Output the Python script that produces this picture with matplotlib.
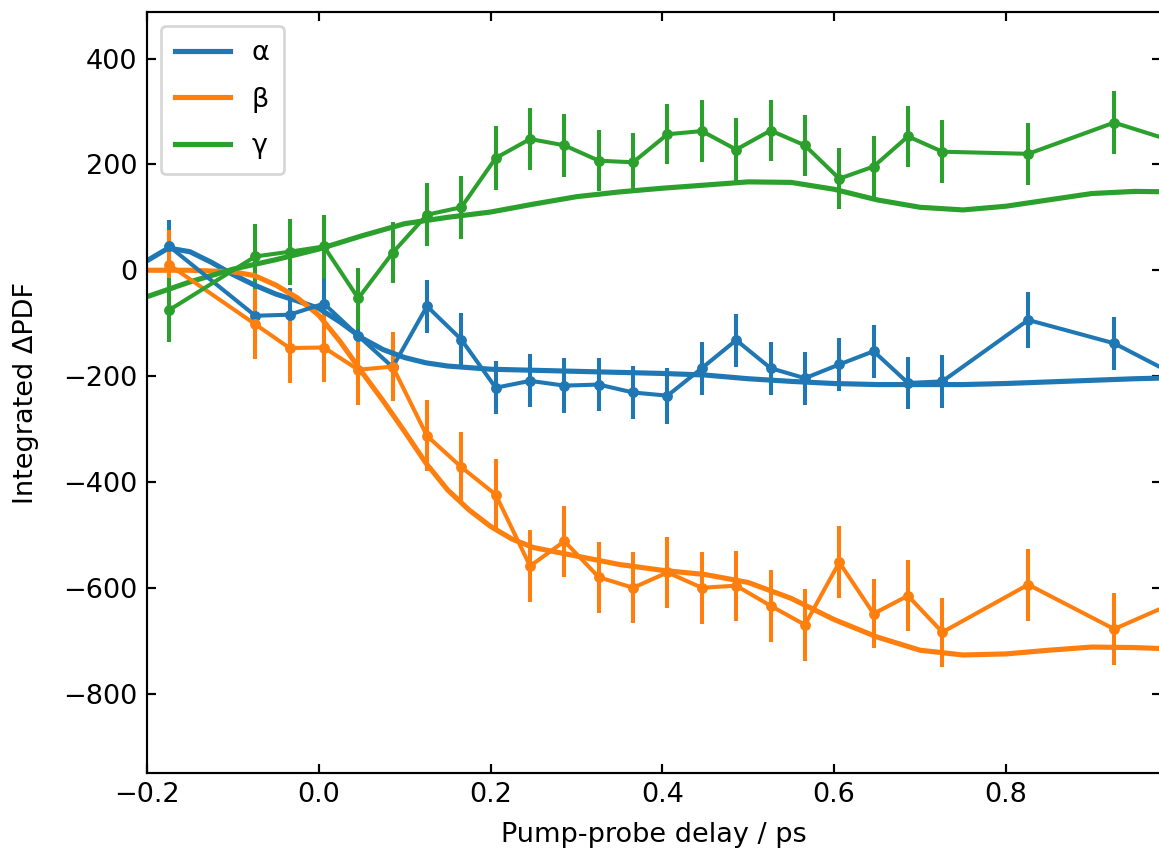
import numpy as np
import matplotlib
matplotlib.use("Agg")
import matplotlib.pyplot as plt

# pump-probe delays (ps)
delay = [-0.174, -0.074, -0.034, 0.006, 0.046, 0.086, 0.126, 0.166, 0.206, 0.246,
         0.286, 0.326, 0.366, 0.406, 0.446, 0.486, 0.526, 0.566, 0.606, 0.646,
         0.686, 0.726, 0.826, 0.926, 1.026]

alpha = [45, -86, -84, -63, -124, -183, -68, -131, -222, -209,
         -218, -216, -231, -237, -185, -132, -185, -204, -178, -153,
         -213, -210, -94, -138, -222]
alpha_err = [50, 50, 50, 50, 50, 50, 50, 50, 50, 50,
             52, 50, 50, 53, 50, 50, 50, 50, 50, 50,
             50, 50, 52, 50, 50]

beta = [10, -102, -147, -146, -188, -182, -313, -372, -424, -559,
        -512, -580, -600, -571, -600, -596, -634, -670, -552, -649,
        -615, -684, -594, -678, -607]
beta_err = [66, 66, 66, 66, 66, 66, 67, 67, 67, 68,
            67, 67, 67, 67, 68, 66, 68, 68, 68, 65,
            67, 65, 68, 68, 67]

gamma = [-75, 26, 35, 45, -53, 33, 105, 119, 212, 248,
         236, 207, 204, 257, 263, 228, 264, 236, 173, 196,
         253, 224, 220, 279, 228]
gamma_err = [60, 62, 62, 60, 58, 58, 60, 60, 60, 58,
             59, 58, 56, 57, 59, 60, 58, 58, 58, 58,
             58, 60, 58, 60, 58]

# model curves
t_alpha = [-0.2, -0.175, -0.15, -0.125, -0.1, -0.075, -0.05, -0.025, 0.0, 0.025,
           0.05, 0.075, 0.1, 0.125, 0.15, 0.2, 0.25, 0.3, 0.35, 0.4, 0.45, 0.5,
           0.55, 0.6, 0.65, 0.7, 0.75, 0.8, 0.85, 0.9, 0.95, 1.0]
alpha_fit = [18, 42, 35, 15, -8, -28, -45, -58, -72, -98,
             -128, -150, -165, -175, -181, -187, -189, -191, -193, -195, -198, -205,
             -210, -214, -216, -216, -216, -214, -211, -208, -205, -203]

t_beta = [-0.2, -0.15, -0.1, -0.075, -0.05, -0.025, 0.0, 0.025, 0.05, 0.075,
          0.1, 0.125, 0.15, 0.175, 0.2, 0.225, 0.25, 0.3, 0.35, 0.4, 0.45, 0.5,
          0.55, 0.6, 0.65, 0.7, 0.75, 0.8, 0.85, 0.9, 0.95, 1.0]
beta_fit = [0, 0, -3, -10, -28, -52, -85, -135, -192, -247,
            -305, -365, -415, -453, -484, -508, -524, -540, -556, -567, -575, -590,
            -620, -660, -693, -718, -727, -725, -718, -712, -713, -716]

t_gamma = [-0.2, -0.15, -0.1, -0.05, 0.0, 0.05, 0.1, 0.15, 0.2, 0.25, 0.3, 0.35,
           0.4, 0.45, 0.5, 0.55, 0.6, 0.65, 0.7, 0.75, 0.8, 0.85, 0.9, 0.95, 1.0]
gamma_fit = [-50, -22, 2, 20, 40, 65, 88, 100, 110, 125, 139, 148,
             155, 161, 167, 166, 153, 133, 119, 114, 121, 133, 145, 149, 148]

fig = plt.figure(figsize=(1159 / 195, 854 / 195), dpi=195)
ax = fig.add_axes([147 / 1159, 81 / 854, 1013.5 / 1159, 761 / 854])

ax.errorbar(delay, alpha, yerr=alpha_err, fmt=".-", color="C0")
ax.errorbar(delay, beta, yerr=beta_err, fmt=".-", color="C1")
ax.errorbar(delay, gamma, yerr=gamma_err, fmt=".-", color="C2")

ax.plot(t_alpha, alpha_fit, color="C0", lw=1.9, label="α")
ax.plot(t_beta, beta_fit, color="C1", lw=1.9, label="β")
ax.plot(t_gamma, gamma_fit, color="C2", lw=1.9, label="γ")

ax.set_xlim(-0.2, 0.98)
ax.set_ylim(-950, 488)
ax.set_xticks([-0.2, 0.0, 0.2, 0.4, 0.6, 0.8])
ax.set_yticks([-800, -600, -400, -200, 0, 200, 400])
ax.tick_params(direction="in", top=True, right=True)
ax.set_xlabel("Pump-probe delay / ps", labelpad=5)
ax.set_ylabel("Integrated ΔPDF", labelpad=9)
ax.legend(loc="upper left", handletextpad=0.8, labelspacing=0.75, borderpad=0.55)

fig.savefig("out.png", dpi=195)
